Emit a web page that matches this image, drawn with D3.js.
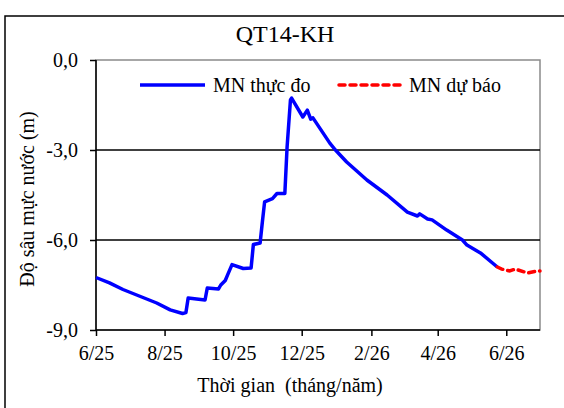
<!DOCTYPE html>
<html lang="vi">
<head>
    <meta charset="UTF-8">
    <title>QT14-KH</title>
    <style>
        body {
            margin: 0;
            background-color: #fff;
        }

        svg text {
            font-family: "Liberation Serif", "Times New Roman", serif;
            fill: #000;
        }

        .axis path, .axis line {
            stroke: #000;
            stroke-width: 1.5;
        }
    </style>
</head>
<body>
    <svg id="chart" width="564" height="408"></svg>

    <script src="https://cdnjs.cloudflare.com/ajax/libs/d3/7.8.5/d3.min.js"></script>
    <script>
        // measured water level (m)
        const measuredDates = [
            '2025-06-01', '2025-06-13', '2025-06-25', '2025-07-25', '2025-08-06', '2025-08-17',
            '2025-08-20', '2025-08-22', '2025-09-06', '2025-09-08', '2025-09-18', '2025-09-20',
            '2025-09-24', '2025-09-26', '2025-09-30', '2025-10-10', '2025-10-17', '2025-10-19',
            '2025-10-25', '2025-10-27', '2025-10-29', '2025-11-05', '2025-11-09', '2025-11-16',
            '2025-11-18', '2025-11-21', '2025-11-22', '2025-12-02', '2025-12-06', '2025-12-09',
            '2025-12-11', '2025-12-26', '2025-12-31', '2026-01-10', '2026-01-28', '2026-02-15',
            '2026-03-05', '2026-03-14', '2026-03-16', '2026-03-23', '2026-03-27', '2026-04-09',
            '2026-04-23', '2026-04-27', '2026-05-09', '2026-05-24'
        ];
        const measuredValues = [
            -7.25, -7.43, -7.65, -8.1, -8.33, -8.45,
            -8.42, -7.93, -8.0, -7.6, -7.63, -7.5,
            -7.35, -7.17, -6.82, -6.95, -6.93, -6.15,
            -6.1, -5.4, -4.73, -4.62, -4.45, -4.45,
            -2.9, -1.33, -1.27, -1.9, -1.67, -1.97,
            -1.93, -2.77, -3.0, -3.4, -4.0, -4.5,
            -5.07, -5.2, -5.13, -5.3, -5.33, -5.67,
            -6.0, -6.17, -6.43, -6.9
        ];

        // forecast water level (m)
        const forecastDates = ['2026-05-24', '2026-05-28', '2026-06-04', '2026-06-09', '2026-06-20', '2026-06-29', '2026-07-01'];
        const forecastValues = [-6.9, -6.97, -7.03, -6.97, -7.1, -7.03, -7.03];

        const yTicks = [0, -3, -6, -9];
        const xTickDates = ['2025-06-01', '2025-08-01', '2025-10-01', '2025-12-01', '2026-02-01', '2026-04-01', '2026-06-01'];
        const xTickLabels = ['6/25', '8/25', '10/25', '12/25', '2/26', '4/26', '6/26'];

        const parseDate = d3.timeParse('%Y-%m-%d');
        const measured = measuredDates.map((d, i) => ({ date: parseDate(d), value: measuredValues[i] }));
        const forecast = forecastDates.map((d, i) => ({ date: parseDate(d), value: forecastValues[i] }));

        const svg = d3.select('#chart');
        const plot = { left: 96, right: 540, top: 60, bottom: 330 };

        const x = d3.scaleTime()
            .domain([parseDate('2025-06-01'), parseDate('2026-07-01')])
            .range([plot.left, plot.right]);

        const y = d3.scaleLinear()
            .domain([-9, 0])
            .range([plot.bottom, plot.top]);

        // outer frame (only left and top edges show)
        svg.append('path')
            .attr('d', 'M5,408V16H564')
            .attr('fill', 'none')
            .attr('stroke', '#000')
            .attr('stroke-width', 1.5);

        // plot area border
        svg.append('rect')
            .attr('x', plot.left)
            .attr('y', plot.top)
            .attr('width', plot.right - plot.left)
            .attr('height', plot.bottom - plot.top)
            .attr('fill', 'none')
            .attr('stroke', '#8a8a8a')
            .attr('stroke-width', 1.5);

        // gridlines
        svg.append('g')
            .selectAll('line')
            .data([-3, -6])
            .join('line')
            .attr('x1', plot.left)
            .attr('x2', plot.right)
            .attr('y1', d => y(d))
            .attr('y2', d => y(d))
            .attr('stroke', '#000')
            .attr('stroke-width', 1.5);

        // axes
        let yAxis = d3.axisLeft(y)
            .tickValues(yTicks)
            .tickSize(6)
            .tickPadding(12)
            .tickFormat(d => d3.format('.1f')(d).replace('.', ',').replace('−', '-'));
        let gy = svg.append('g')
            .attr('class', 'axis')
            .attr('transform', `translate(${plot.left},0)`)
            .call(yAxis);
        gy.select('.domain').attr('d', `M0,${plot.top}V${plot.bottom}`);
        gy.selectAll('text').attr('font-size', 20).style('font-family', '"Liberation Serif", serif');

        let xAxis = d3.axisBottom(x)
            .tickValues(xTickDates.map(parseDate))
            .tickSize(6)
            .tickPadding(10)
            .tickFormat((d, i) => xTickLabels[i]);
        let gx = svg.append('g')
            .attr('class', 'axis')
            .attr('transform', `translate(0,${plot.bottom})`)
            .call(xAxis);
        gx.select('.domain').attr('d', `M${plot.left},0H${plot.right}`);
        gx.selectAll('text').attr('font-size', 20).style('font-family', '"Liberation Serif", serif');

        // lines
        const line = d3.line()
            .x(d => x(d.date))
            .y(d => y(d.value));

        svg.append('path')
            .datum(measured)
            .attr('d', line)
            .attr('fill', 'none')
            .attr('stroke', '#0000ff')
            .attr('stroke-width', 3.5)
            .attr('stroke-linejoin', 'round');

        svg.append('path')
            .datum(forecast)
            .attr('d', line)
            .attr('fill', 'none')
            .attr('stroke', '#ff0000')
            .attr('stroke-width', 3.5)
            .attr('stroke-dasharray', '6,5')
            .attr('stroke-linecap', 'round');

        // title
        svg.append('text')
            .attr('x', 285)
            .attr('y', 42)
            .attr('text-anchor', 'middle')
            .attr('font-size', 24)
            .text('QT14-KH');

        // legend
        let legend = svg.append('g');
        legend.append('line')
            .attr('x1', 140).attr('x2', 205)
            .attr('y1', 85).attr('y2', 85)
            .attr('stroke', '#0000ff')
            .attr('stroke-width', 3.5);
        legend.append('text')
            .attr('x', 213).attr('y', 92)
            .attr('font-size', 20)
            .text('MN thực đo');
        legend.append('line')
            .attr('x1', 339).attr('x2', 402)
            .attr('y1', 85).attr('y2', 85)
            .attr('stroke', '#ff0000')
            .attr('stroke-width', 3.5)
            .attr('stroke-dasharray', '6,5')
            .attr('stroke-linecap', 'round');
        legend.append('text')
            .attr('x', 409).attr('y', 92)
            .attr('font-size', 20)
            .text('MN dự báo');

        // axis titles
        svg.append('text')
            .attr('transform', 'translate(34,199) rotate(-90)')
            .attr('text-anchor', 'middle')
            .attr('font-size', 20)
            .text('Độ sâu mực nước (m)');

        svg.append('text')
            .attr('x', 290)
            .attr('y', 392)
            .attr('text-anchor', 'middle')
            .attr('font-size', 20)
            .style('white-space', 'pre')
            .text('Thời gian  (tháng/năm)');
    </script>
</body>
</html>
